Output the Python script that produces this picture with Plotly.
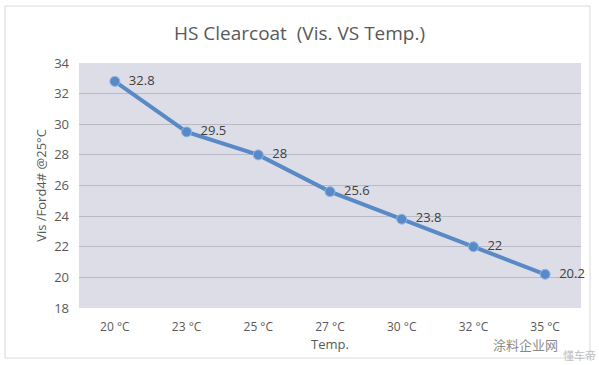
import plotly.graph_objects as go

categories = ["20 °C", "23 °C", "25 °C", "27 °C", "30 °C", "32 °C", "35 °C"]
viscosity = [32.8, 29.5, 28, 25.6, 23.8, 22, 20.2]
y_ticks = [18, 20, 22, 24, 26, 28, 30, 32, 34]

font_family = "Open Sans, Noto Sans, sans-serif"

fig = go.Figure()
fig.add_trace(go.Scatter(
    x=categories, y=viscosity, mode="lines+markers+text",
    line=dict(color="#5a8ac6", width=4),
    marker=dict(size=10, color="#5a8ac6", line=dict(color="#8db8e8", width=1)),
    text=["  " + str(v) for v in viscosity], textposition="middle right",
    textfont=dict(family=font_family, size=13, color="#404040"),
    cliponaxis=False, showlegend=False,
))

fig.update_layout(
    width=599, height=365,
    margin=dict(l=79, r=18, t=63, b=57),
    paper_bgcolor="white", plot_bgcolor="#dcdde7",
    title=dict(text="HS Clearcoat  (Vis. VS Temp.)", x=0.5, xanchor="center",
               y=1 - 33 / 365, yanchor="middle",
               font=dict(family=font_family, size=19, color="#595959")),
    xaxis=dict(
        type="category", range=[-0.5, 6.5], showgrid=False, zeroline=False,
        tickfont=dict(family=font_family, size=12, color="#595959"),
        ticks="", showline=False, automargin=False, ticklabelstandoff=10,
        title=dict(text="Temp.", font=dict(family=font_family, size=13, color="#595959"), standoff=2),
    ),
    yaxis=dict(
        range=[18, 34], tickvals=y_ticks, showgrid=True, gridcolor="#b9bac6", gridwidth=1,
        zeroline=False, showline=False, ticks="", automargin=False, ticklabelstandoff=9,
        tickfont=dict(family=font_family, size=13, color="#595959"),
        title=dict(text="Vis /Ford4# @25°C", font=dict(family=font_family, size=13, color="#595959"), standoff=4),
    ),
    shapes=[dict(type="rect", xref="paper", yref="paper",
                 x0=(5 - 79) / 502, x1=(590 - 79) / 502,
                 y0=(308 - 358) / 245, y1=(308 - 6) / 245,
                 line=dict(color="#d9d9d9", width=1), fillcolor="rgba(0,0,0,0)", layer="below")],
    annotations=[
        dict(text="涂料企业网", xref="paper", yref="paper", x=(560 - 79) / 502, y=(308 - 344) / 245,
             xanchor="right", yanchor="middle", showarrow=False,
             font=dict(family="Noto Sans CJK SC", size=13, color="#8a8a8a")),
        dict(text="懂车帝", xref="paper", yref="paper", x=(561 - 79) / 502, y=(308 - 355) / 245,
             xanchor="left", yanchor="middle", showarrow=False,
             font=dict(family="Noto Sans CJK SC", size=11, color="#c0c0c0")),
    ],
)

fig.write_html("out.html", config={"displayModeBar": False},
               post_script="document.body.style.margin='0';document.body.style.padding='0';")
